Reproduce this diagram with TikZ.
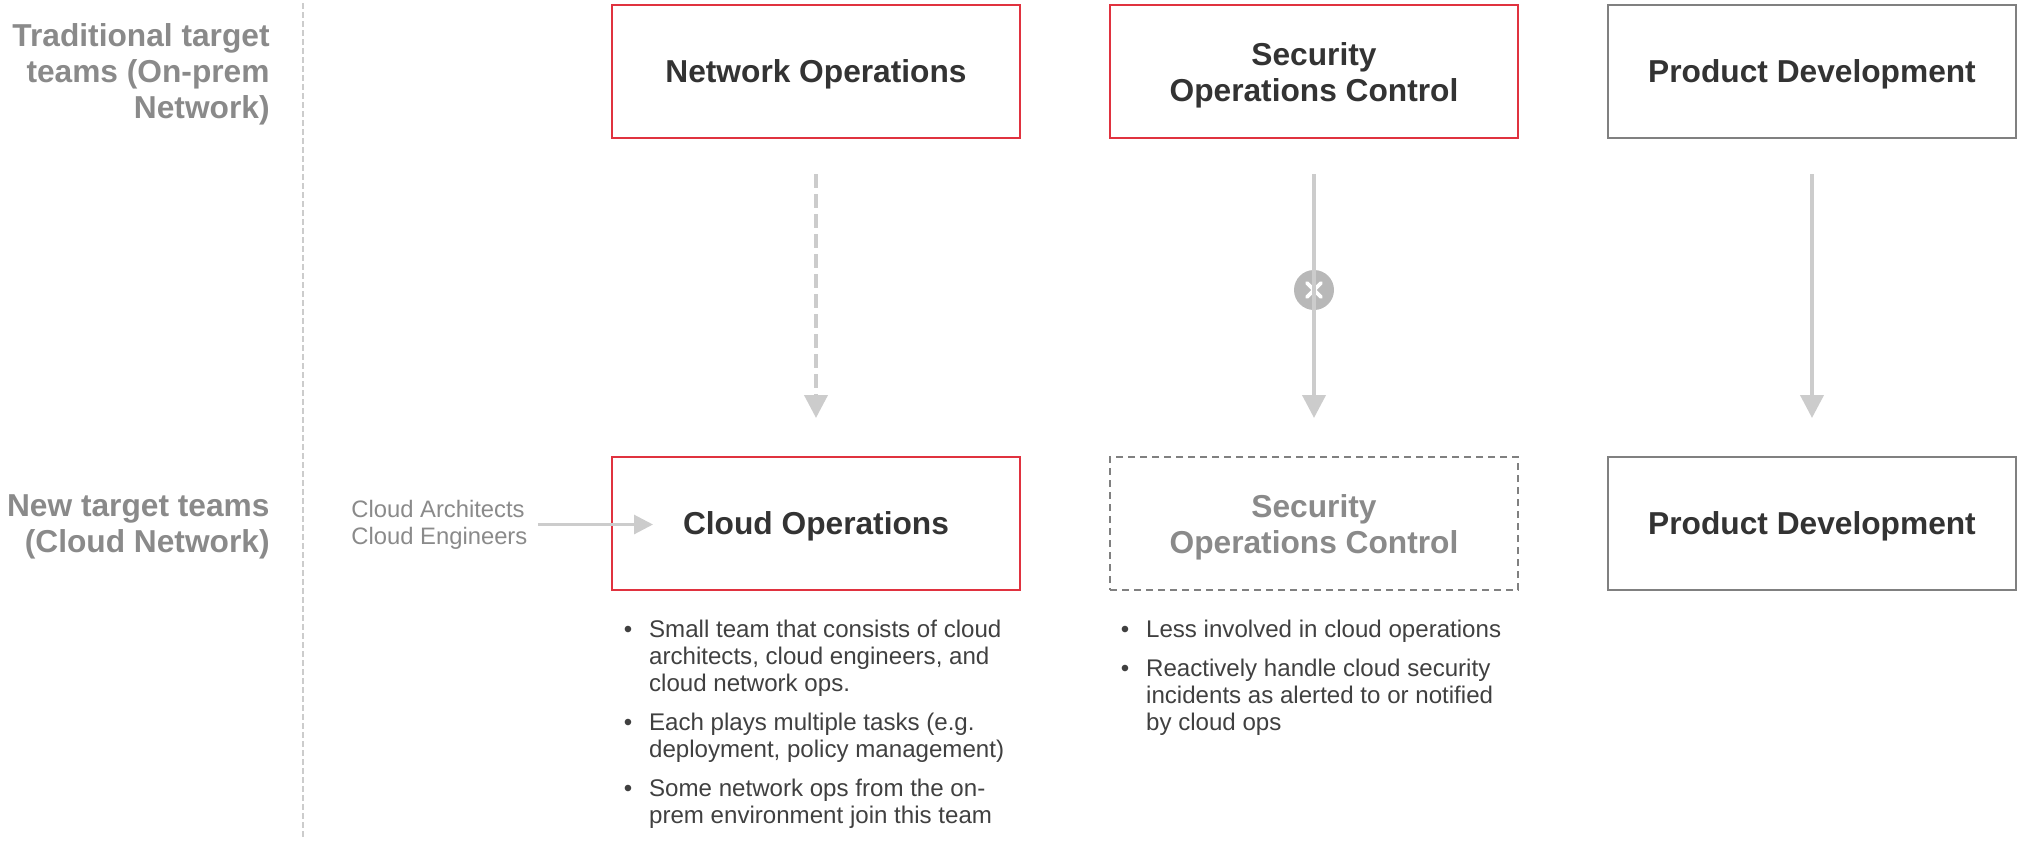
\documentclass[tikz,border=0pt]{standalone}
\usepackage{fontspec}
\setmainfont{Liberation Sans}
\usepackage{array}
\usetikzlibrary{arrows.meta, calc, positioning}
\definecolor{teamred}{HTML}{E0323F}
\definecolor{teamdark}{HTML}{333333}
\definecolor{teamtext}{HTML}{404040}
\definecolor{teamgray}{HTML}{8A8A8A}
\definecolor{teamedge}{HTML}{808080}
\definecolor{flowgray}{HTML}{CCCCCC}
\definecolor{stopgray}{HTML}{B8B8B8}
\newcommand{\teamfont}{\fontsize{15.85}{18}\selectfont\bfseries}
\newcommand{\notefont}{\fontsize{12.05}{13.5}\selectfont}
\newcommand{\rolefont}{\fontsize{11.9}{13.5}\selectfont}
\newcommand{\toprow}{\rule{0pt}{15.6pt}}
\newcommand{\noterows}[1]{\begin{tabular}{@{}l@{\hspace{8.4pt}}l@{}}#1\end{tabular}}
\tikzset{
  teambox/.style={draw=#1, line width=0.8pt, minimum width=204pt, minimum height=66.5pt, inner sep=0pt, outer sep=0pt, align=center, font=\teamfont, text=teamdark, execute at begin node=\rule{0pt}{14.4pt}},
  rowlabel/.style={anchor=east, align=right, inner sep=0pt, font=\teamfont, text=teamgray},
  notes/.style={anchor=north west, inner sep=0pt, align=left, font=\notefont, text=teamtext},
  flow/.style={draw=flowgray, line width=2pt, -{Triangle[length=11.5pt,width=11.5pt]}, shorten <=18pt, shorten >=19.5pt}
}
\begin{document}
\begin{tikzpicture}[x=0.5pt, y=-0.5pt]
  \useasboundingbox (0,0) rectangle (2023,852);
  \node[rowlabel] (oldrow) at (270,74.5) {Traditional target\\teams (On-prem\\Network)};
  \node[rowlabel] (newrow) at (270,526.5) {New target teams\\(Cloud Network)};
  \coordinate (railtop) at (303,3);
  \coordinate (railend) at (303,840);
  \draw[flowgray, line width=1pt, dash pattern=on 3pt off 1.5pt] (railtop) -- (railend);

  \node[teambox=teamred] (oldnet) at (816,71.5) {Network Operations};
  \node[teambox=teamred, right=45pt of oldnet] (oldsec) {\toprow Security\\Operations Control};
  \node[teambox=teamedge, right=45pt of oldsec] (olddev) {Product Development};
  \node[teambox=teamred, below=159.5pt of oldnet] (cloudops) {Cloud Operations};
  \node[teambox=teamedge, dashed, dash pattern=on 3.5pt off 2.5pt, text=teamgray, below=159.5pt of oldsec] (cloudsec) {\toprow Security\\Operations Control};
  \node[teambox=teamedge, below=159.5pt of olddev] (clouddev) {Product Development};

  \node[circle, fill=stopgray, minimum size=20pt, inner sep=0pt] (stopsec) at (1314,290) {};
  \draw[white, line width=1.8pt, line cap=round] ($(stopsec)+(-7,-7)$) -- ($(stopsec)+(7,7)$);
  \draw[white, line width=1.8pt, line cap=round] ($(stopsec)+(-7,7)$) -- ($(stopsec)+(7,-7)$);

  \draw[flow, dash pattern=on 7pt off 3pt] (oldnet.south) -- (cloudops.north);
  \draw[flow] (oldsec.south) -- (cloudsec.north);
  \draw[flow] (olddev.south) -- (clouddev.north);

  \node[anchor=west, inner sep=0pt, align=left, font=\rolefont, text=teamgray] (roles) at (351,524.5) {Cloud Architects\\Cloud Engineers};
  \coordinate (rolesin) at (653,524.5);
  \draw[flowgray, line width=1.5pt, -{Triangle[length=9.5pt,width=9.5pt]}, shorten <=5pt] (roles.east) -- (rolesin);

  \node[notes] (opsnotes) at (623.5,618) {\noterows{
    • & Small team that consists of cloud\\
      & architects, cloud engineers, and\\
      & cloud network ops.\\[6pt]
    • & Each plays multiple tasks (e.g.\\
      & deployment, policy management)\\[6pt]
    • & Some network ops from the on-\\
      & prem environment join this team}};
  \node[notes] (secnotes) at (1120.5,618) {\noterows{
    • & Less involved in cloud operations\\[6pt]
    • & Reactively handle cloud security\\
      & incidents as alerted to or notified\\
      & by cloud ops}};
\end{tikzpicture}
\end{document}
